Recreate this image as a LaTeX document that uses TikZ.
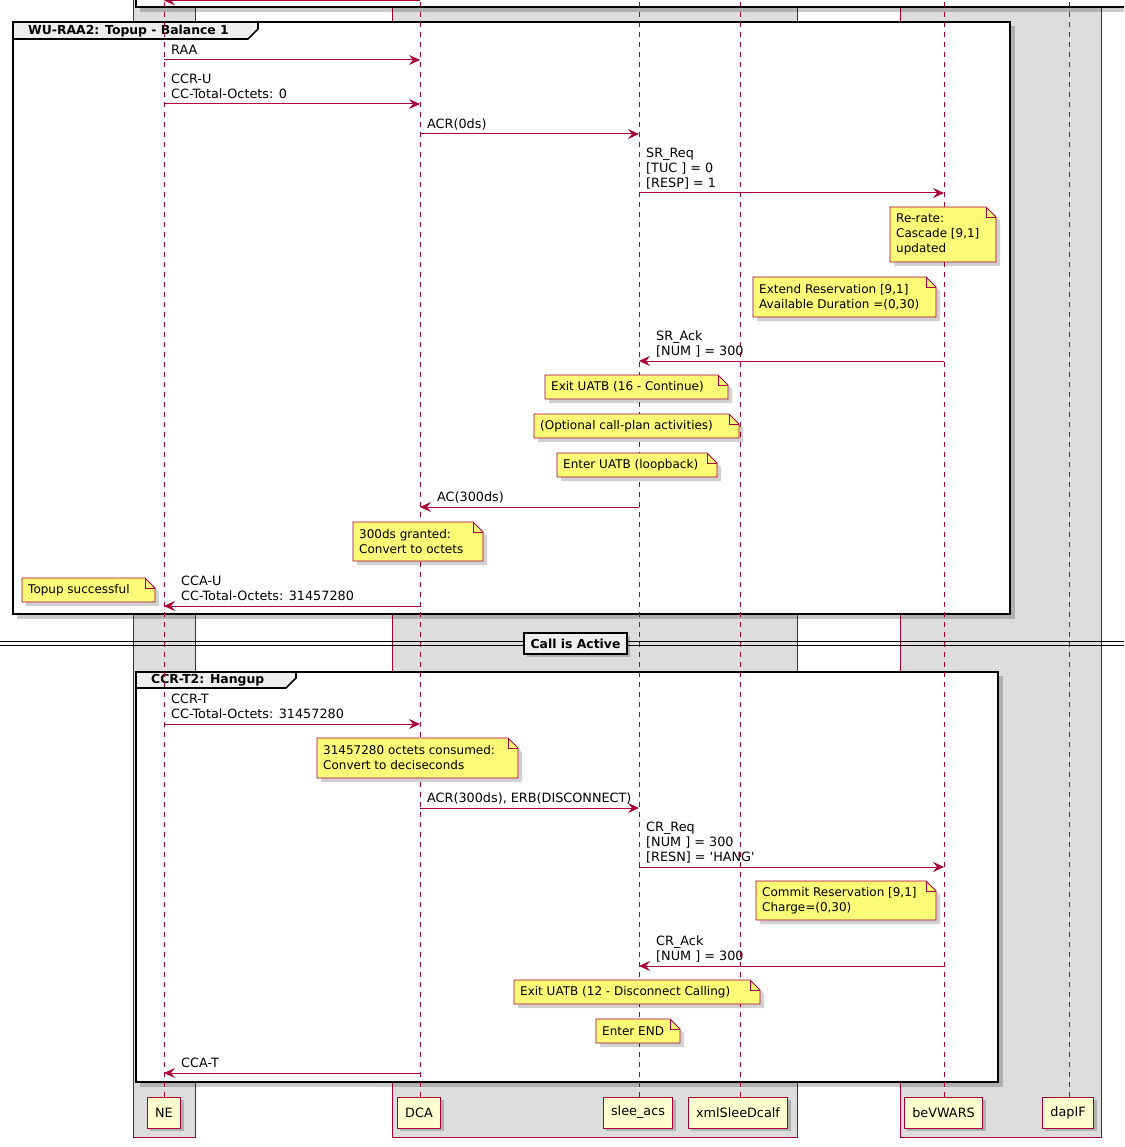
\documentclass[tikz,border=0pt]{standalone}
\usepackage{fontspec}
\setmainfont{DejaVu Sans}
\usetikzlibrary{arrows.meta,shadows}
\definecolor{crim}{HTML}{A80036}
\definecolor{noteyel}{HTML}{FBFB77}
\definecolor{partyel}{HTML}{FEFECE}
\definecolor{boxgray}{HTML}{DDDDDD}
\definecolor{tabgray}{HTML}{EEEEEE}
\newcommand\fs{\fontsize{12.8}{15}\selectfont}
\newcommand\fn{\fontsize{12}{15}\selectfont}
\newcommand\fb{\fontsize{12.4}{14}\selectfont\bfseries}
\newcommand\notebox[6]{%
  \fill[black,opacity=0.18] (#2+4,#3+4) -- (#4-6,#3+4) -- (#4+4,#3+14) -- (#4+4,#5+4) -- (#2+4,#5+4) -- cycle;
  \draw[crim, fill=noteyel, line width=0.9pt] (#2,#3) -- (#4-10,#3) -- (#4,#3+10) -- (#4,#5) -- (#2,#5) -- cycle;
  \draw[crim, line width=0.9pt] (#4-10,#3) -- (#4-10,#3+10) -- (#4,#3+10);
  \node[anchor=west, align=left, font=\fn] (#1) at (#2+6,{(#3+#5)/2}) {#6};
}
\begin{document}
\begin{tikzpicture}[x=1pt,y=-1pt,
  every node/.style={font=\fs, inner sep=0pt},
  lifeline/.style={crim, line width=0.9pt, dash pattern=on 5pt off 5pt},
  msg/.style={crim, line width=1pt, -{Stealth[length=11pt,width=10pt,inset=4pt]}},
  lbl/.style={anchor=south west, align=left, text depth=3pt},
  partbox/.style={draw=crim, fill=partyel, line width=1pt, minimum height=31pt, inner xsep=8pt,
    drop shadow={shadow xshift=3pt, shadow yshift=-3pt, fill=black, opacity=0.2}},
  grpbox/.style={draw=crim, fill=boxgray, line width=0.9pt},
  frameline/.style={draw=black, line width=1.6pt},
  frameshadow/.style={fill=black, opacity=0.2},
]
\useasboundingbox (0,0) rectangle (1124,1147);
\clip (0,0) rectangle (1124,1147);

% participant group boxes
\draw[grpbox] (133,-10) rectangle (195,1137);
\draw[grpbox] (392,-10) rectangle (797,1137);
\draw[grpbox] (900,-10) rectangle (1101,1137);

% top (previous) frame
\fill[frameshadow] (140,-20) rectangle (1140,12);
\draw[frameline, fill=white] (136,-20) rectangle (1140,7);

% frame 1
\fill[frameshadow] (17,26) rectangle (1015,619);
\draw[frameline, fill=white] (13,22) rectangle (1010,614);
\draw[frameline, fill=tabgray] (13,22) -- (258,22) -- (258,29) -- (248,39) -- (13,39) -- cycle;
\node[font=\fb, anchor=west] (t1) at (28,31) {WU-RAA2: Topup - Balance 1};

% frame 2
\fill[frameshadow] (140,676) rectangle (1003,1087);
\draw[frameline, fill=white] (136,672) rectangle (998,1082);
\draw[frameline, fill=tabgray] (136,672) -- (296,672) -- (296,678) -- (286,688) -- (136,688) -- cycle;
\node[font=\fb, anchor=west] (t2) at (151,680.5) {CCR-T2: Hangup};

% participants
\node[partbox] (pNE) at (164,1112.5) {NE};
\node[partbox] (pDCA) at (419,1112.5) {DCA};
\node[partbox] (pSlee) at (638,1112.5) {slee\_acs};
\node[partbox] (pXml) at (738,1112.5) {xmlSleeDcalf};
\node[partbox] (pBe) at (943.5,1112.5) {beVWARS};
\node[partbox] (pDap) at (1068,1112.5) {dapIF};

% lifelines
\foreach \x in {164,420,639,740,944,1069}{
  \draw[lifeline] (\x,1097) -- (\x,-10);
}
\coordinate (xNE) at (164,0);
\coordinate (xDCA) at (420,0);
\coordinate (xSlee) at (639,0);
\coordinate (xBe) at (944,0);

% top partial message
\draw[msg] (xDCA |- 0,0.5) -- (xNE |- 0,0.5);

% messages frame 1
\draw[msg] (xNE |- 0,60) -- (xDCA |- 0,60);
\node[lbl] (l1) at (171,58) {RAA};
\draw[msg] (xNE |- 0,104) -- (xDCA |- 0,104);
\node[lbl] (l2) at (171,102) {CCR-U\\CC-Total-Octets: 0};
\draw[msg] (xDCA |- 0,134) -- (xSlee |- 0,134);
\node[lbl] (l3) at (427,132) {ACR(0ds)};
\draw[msg] (xSlee |- 0,193) -- (xBe |- 0,193);
\node[lbl] (l4) at (646,191) {SR\_Req\\{}[TUC ] = 0\\{}[RESP] = 1};
\notebox{nRerate}{890}{207}{996}{262}{Re-rate:\\Cascade [9,1]\\updated}
\notebox{nExtend}{753}{277}{936}{317}{Extend Reservation [9,1]\\Available Duration =(0,30)}
\draw[msg] (xBe |- 0,361) -- (xSlee |- 0,361);
\node[lbl] (l5) at (656,359) {SR\_Ack\\{}[NUM ] = 300};
\notebox{nExit16}{545}{375}{728}{399}{Exit UATB (16 - Continue)}
\notebox{nOpt}{534}{414}{739}{438}{(Optional call-plan activities)}
\notebox{nEnter}{557}{453}{717}{477}{Enter UATB (loopback)}
\draw[msg] (xSlee |- 0,507) -- (xDCA |- 0,507);
\node[lbl] (l6) at (437,505) {AC(300ds)};
\notebox{n300}{353}{522}{483}{561}{300ds granted:\\Convert to octets}
\draw[msg] (xDCA |- 0,606) -- (xNE |- 0,606);
\node[lbl] (l7) at (181,604) {CCA-U\\CC-Total-Octets: 31457280};
\notebox{nTopup}{22}{578}{155}{602}{Topup successful}

% separator
\draw[black, line width=1pt] (0,641) -- (1124,641);
\draw[black, line width=1pt] (0,645) -- (1124,645);
\node[draw=black, line width=1.5pt, fill=tabgray, font=\fb, minimum width=103pt, minimum height=21pt,
  drop shadow={shadow xshift=3pt, shadow yshift=-3pt, fill=black, opacity=0.2}] (sep) at (575.5,643.5) {Call is Active};

% messages frame 2
\draw[msg] (xNE |- 0,724) -- (xDCA |- 0,724);
\node[lbl] (l8) at (171,722) {CCR-T\\CC-Total-Octets: 31457280};
\notebox{nOct}{317}{738}{518}{778}{31457280 octets consumed:\\Convert to deciseconds}
\draw[msg] (xDCA |- 0,808) -- (xSlee |- 0,808);
\node[lbl] (l9) at (427,806) {ACR(300ds), ERB(DISCONNECT)};
\draw[msg] (xSlee |- 0,867) -- (xBe |- 0,867);
\node[lbl] (l10) at (646,865) {CR\_Req\\{}[NUM ] = 300\\{}[RESN] = \textquotesingle HANG\textquotesingle};
\notebox{nCommit}{756}{881}{936}{920}{Commit Reservation [9,1]\\Charge=(0,30)}
\draw[msg] (xBe |- 0,966) -- (xSlee |- 0,966);
\node[lbl] (l11) at (656,964) {CR\_Ack\\{}[NUM ] = 300};
\notebox{nExit12}{514}{980}{760}{1004}{Exit UATB (12 - Disconnect Calling)}
\notebox{nEnd}{596}{1019}{680}{1043}{Enter END}
\draw[msg] (xDCA |- 0,1073) -- (xNE |- 0,1073);
\node[lbl] (l12) at (181,1071) {CCA-T};
\end{tikzpicture}
\end{document}
